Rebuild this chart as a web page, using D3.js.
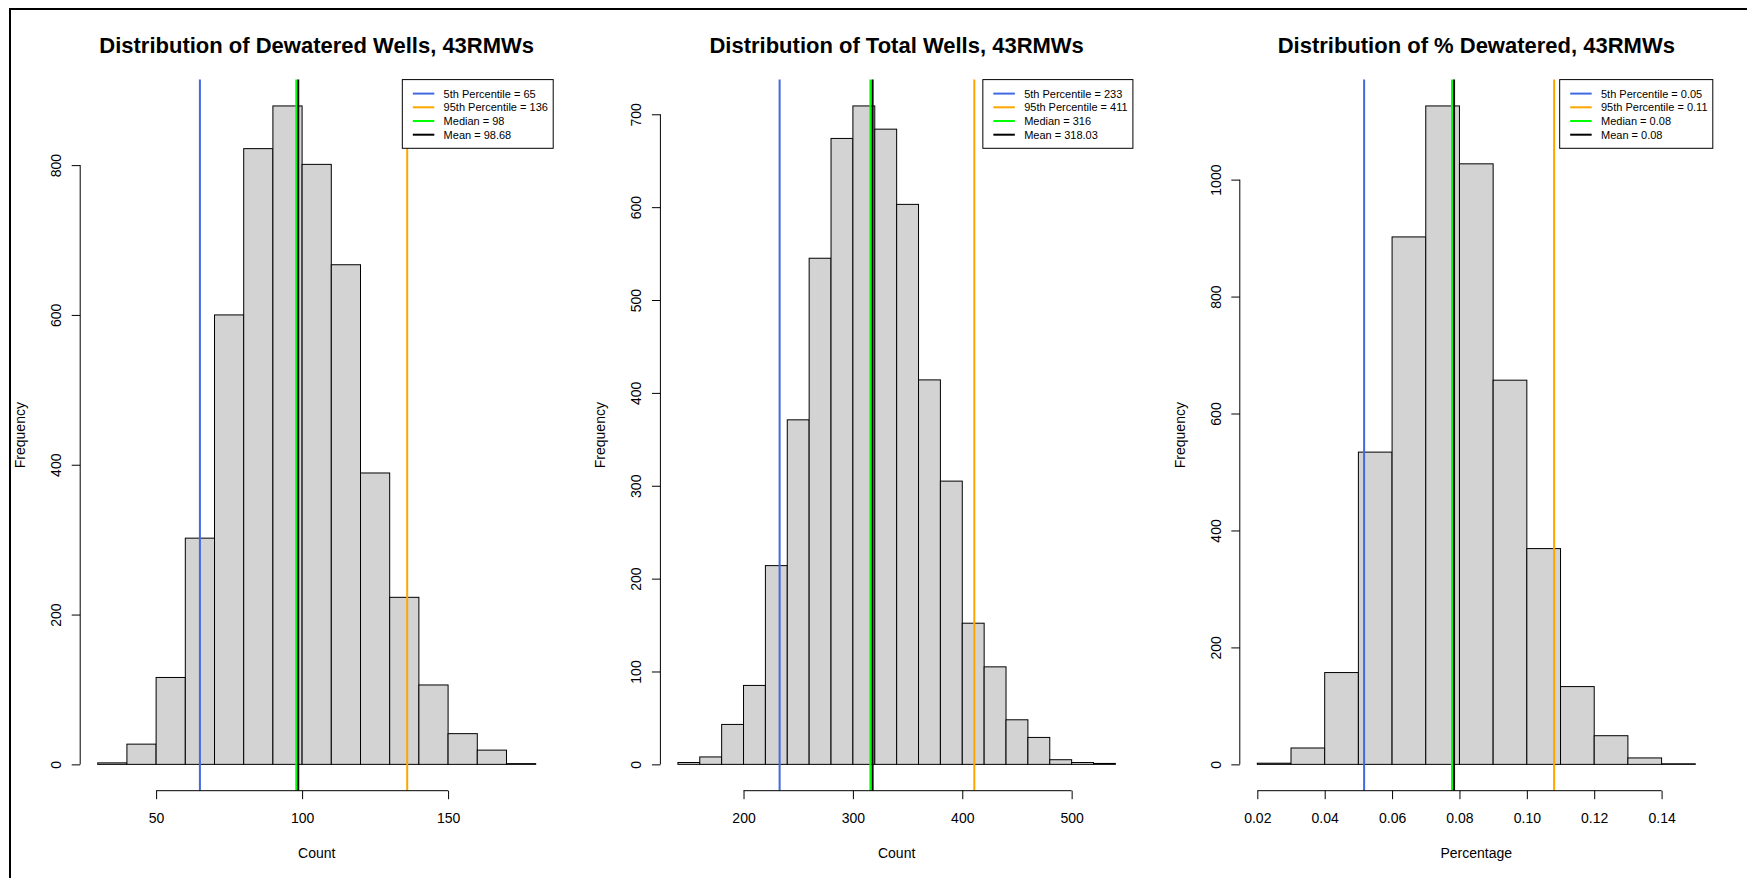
<!DOCTYPE html>
<html>
<head>
<meta charset="utf-8">
<script src="https://cdn.jsdelivr.net/npm/d3@7"></script>
<style>
  body { margin: 0; background: #fff; }
  svg { display: block; font-family: "Liberation Sans", Arial, sans-serif; }
</style>
</head>
<body>
<svg id="chart"></svg>
<script>
// ---- data ----
const titles = ["Distribution of Dewatered Wells, 43RMWs", "Distribution of Total Wells, 43RMWs", "Distribution of % Dewatered, 43RMWs"];
const xLabels = ["Count", "Count", "Percentage"];
const statNames = ["5th Percentile", "95th Percentile", "Median", "Mean"];

const dewateredBreaks = [30, 40, 50, 60, 70, 80, 90, 100, 110, 120, 130, 140, 150, 160, 170, 180];
const dewateredCounts = [2, 27, 116, 302, 600, 822, 879, 801, 667, 389, 223, 106, 41, 19, 1];
const dewateredStats = [65, 136, 98, 98.68];
const dewateredXTicks = [50, 100, 150];
const dewateredYTicks = [0, 200, 400, 600, 800];

const totalBreaks = [140, 160, 180, 200, 220, 240, 260, 280, 300, 320, 340, 360, 380, 400, 420, 440, 460, 480, 500, 520, 540];
const totalCounts = [2, 8, 43, 85, 214, 371, 545, 674, 709, 684, 603, 414, 305, 152, 105, 48, 29, 5, 2, 1];
const totalStats = [233, 411, 316, 318.03];
const totalXTicks = [200, 300, 400, 500];
const totalYTicks = [0, 100, 200, 300, 400, 500, 600, 700];

const pctBreaks = [0.02, 0.03, 0.04, 0.05, 0.06, 0.07, 0.08, 0.09, 0.10, 0.11, 0.12, 0.13, 0.14, 0.15];
const pctCounts = [2, 28, 157, 534, 902, 1126, 1027, 657, 369, 133, 49, 11, 1];
const pctStats = [0.0517, 0.1081, 0.0778, 0.0784];
const pctXTicks = [0.02, 0.04, 0.06, 0.08, 0.10, 0.12, 0.14];
const pctYTicks = [0, 200, 400, 600, 800, 1000];

// ---- layout / style ----
const width = 1747, height = 878;
const plotTop = 79.6, plotBottom = 790.7;
const statColors = ["#4169e1", "#ffa500", "#00ff00", "#000000"];
const panels = [
  { breaks: dewateredBreaks, counts: dewateredCounts, stats: dewateredStats, xTicks: dewateredXTicks, yTicks: dewateredYTicks, fmt: d3.format("d"), left: 80.2, right: 553.2 },
  { breaks: totalBreaks, counts: totalCounts, stats: totalStats, xTicks: totalXTicks, yTicks: totalYTicks, fmt: d3.format("d"), left: 660.4, right: 1132.9 },
  { breaks: pctBreaks, counts: pctCounts, stats: pctStats, xTicks: pctXTicks, yTicks: pctYTicks, fmt: d3.format(".2f"), left: 1239.8, right: 1712.8 }
];

const svg = d3.select("#chart").attr("width", width).attr("height", height);
svg.append("rect").attr("width", width).attr("height", height).attr("fill", "#fff");

// window frame (top and left edges visible in the screenshot)
svg.append("path")
  .attr("d", `M10,${height} V9 H${width}`)
  .attr("fill", "none").attr("stroke", "#000").attr("stroke-width", 2);

panels.forEach((p, k) => drawPanel(p, k));

function drawPanel(p, k) {
  const lo = p.breaks[0], hi = p.breaks[p.breaks.length - 1];
  const pad = (hi - lo) * 0.04;
  const x = d3.scaleLinear().domain([lo - pad, hi + pad]).range([p.left, p.right]);
  const M = d3.max(p.counts);
  const y = d3.scaleLinear().domain([-0.04 * M, 1.04 * M]).range([plotBottom, plotTop]);
  const cx = (p.left + p.right) / 2;
  const g = svg.append("g");

  // histogram bars
  g.selectAll("rect.bar")
    .data(p.counts)
    .join("rect")
    .attr("class", "bar")
    .attr("x", (d, i) => x(p.breaks[i]))
    .attr("width", (d, i) => x(p.breaks[i + 1]) - x(p.breaks[i]))
    .attr("y", d => y(d))
    .attr("height", d => y(0) - y(d))
    .attr("fill", "#d3d3d3")
    .attr("stroke", "#000")
    .attr("stroke-width", 1);

  // percentile / median / mean lines
  g.selectAll("line.stat")
    .data(p.stats)
    .join("line")
    .attr("class", "stat")
    .attr("x1", d => x(d)).attr("x2", d => x(d))
    .attr("y1", plotTop).attr("y2", plotBottom)
    .attr("stroke", (d, i) => statColors[i])
    .attr("stroke-width", 2);

  // x axis, R style: line only from first to last tick
  const xa = g.append("g")
    .attr("transform", `translate(0,${plotBottom})`)
    .call(d3.axisBottom(x).tickValues(p.xTicks).tickFormat(p.fmt).tickSize(8.5).tickSizeOuter(0));
  xa.select(".domain").remove();
  xa.append("line")
    .attr("x1", x(p.xTicks[0])).attr("x2", x(p.xTicks[p.xTicks.length - 1]))
    .attr("stroke", "#000");
  xa.attr("font-family", null).attr("font-size", null);
  xa.selectAll(".tick line").attr("stroke", "#000");
  xa.selectAll(".tick text")
    .attr("y", 32.3).attr("dy", null)
    .style("font-size", "14px").attr("fill", "#000");

  // y axis with rotated labels
  const ya = g.append("g")
    .attr("transform", `translate(${p.left},0)`)
    .call(d3.axisLeft(y).tickValues(p.yTicks).tickFormat(d3.format("d")).tickSize(8.5).tickSizeOuter(0));
  ya.select(".domain").remove();
  ya.append("line")
    .attr("y1", y(p.yTicks[0])).attr("y2", y(p.yTicks[p.yTicks.length - 1]))
    .attr("stroke", "#000");
  ya.attr("font-family", null).attr("font-size", null);
  ya.selectAll(".tick line").attr("stroke", "#000");
  ya.selectAll(".tick text")
    .attr("transform", "rotate(-90)")
    .attr("x", 0).attr("y", -19).attr("dy", null)
    .attr("text-anchor", "middle")
    .style("font-size", "14px").attr("fill", "#000");

  // titles
  g.append("text")
    .attr("x", cx).attr("y", 52.7)
    .attr("text-anchor", "middle")
    .style("font-size", "22px").style("font-weight", "bold")
    .text(titles[k]);

  g.append("text")
    .attr("x", cx).attr("y", 857.5)
    .attr("text-anchor", "middle")
    .style("font-size", "14px")
    .text(xLabels[k]);

  g.append("text")
    .attr("transform", `translate(${p.left - 55},${(plotTop + plotBottom) / 2}) rotate(-90)`)
    .attr("text-anchor", "middle")
    .style("font-size", "14px")
    .text("Frequency");

  drawLegend(g, p, p.right, plotTop);
}

function drawLegend(g, p, rightX, topY) {
  const rowH = 13.7;
  const labels = p.stats.map((v, i) => `${statNames[i]} = ${Math.round(v * 100) / 100}`);
  const lg = g.append("g");
  const box = lg.append("rect").attr("fill", "#fff").attr("stroke", "#000").attr("stroke-width", 1);
  const texts = lg.selectAll("text")
    .data(labels)
    .join("text")
    .style("font-size", "11px")
    .text(d => d);
  const maxW = d3.max(texts.nodes(), n => n.getComputedTextLength());
  const boxW = 41.3 + maxW + 5.3;
  const left = rightX - boxW;
  box.attr("x", left).attr("y", topY).attr("width", boxW).attr("height", 68.7);
  texts.attr("x", left + 41.3).attr("y", (d, i) => topY + 14 + i * rowH + 3.9);
  lg.selectAll("line")
    .data(labels)
    .join("line")
    .attr("x1", left + 10.5).attr("x2", left + 32)
    .attr("y1", (d, i) => topY + 14 + i * rowH)
    .attr("y2", (d, i) => topY + 14 + i * rowH)
    .attr("stroke", (d, i) => statColors[i])
    .attr("stroke-width", 2);
}
</script>
</body>
</html>
